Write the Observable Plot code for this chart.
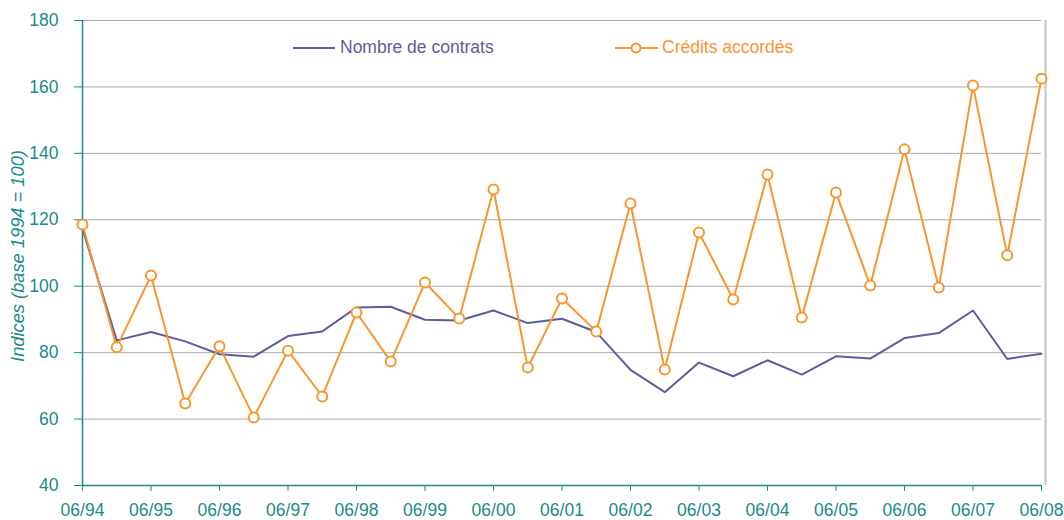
<!DOCTYPE html>
<html>
<head>
<meta charset="utf-8">
<script src="https://cdn.jsdelivr.net/npm/d3@7"></script>
<script src="https://cdn.jsdelivr.net/npm/@observablehq/plot@0.6"></script>
<style>
  html, body { margin: 0; padding: 0; background: #fff; }
  #wrap { position: relative; width: 1064px; height: 520px; font-family: "Liberation Sans", Arial, sans-serif; }
  .leg { position: absolute; top: 37px; display: flex; align-items: center; font-size: 17.5px; }
  .leg span { margin-left: 4px; }
</style>
</head>
<body>
<div id="wrap"></div>
<script>
// Half-year periods, 06/94 .. 06/08
const periods = ["06/94","12/94","06/95","12/95","06/96","12/96","06/97","12/97","06/98","12/98",
  "06/99","12/99","06/00","12/00","06/01","12/01","06/02","12/02","06/03","12/03",
  "06/04","12/04","06/05","12/05","06/06","12/06","06/07","12/07","06/08"];
const contrats = [117.3, 83.7, 86.2, 83.4, 79.5, 78.8, 85.0, 86.4, 93.6, 93.8,
  89.9, 89.7, 92.7, 88.9, 90.2, 86.2, 74.8, 68.1, 77.0, 72.9,
  77.7, 73.4, 78.9, 78.2, 84.4, 85.9, 92.7, 78.1, 79.7];
const credits = [118.6, 81.6, 103.2, 64.7, 81.9, 60.5, 80.6, 66.8, 92.1, 77.3,
  101.1, 90.3, 129.1, 75.5, 96.3, 86.4, 124.9, 74.9, 116.2, 96.0,
  133.6, 90.6, 128.2, 100.2, 141.2, 99.6, 160.4, 109.3, 162.5];
const yTicks = [40, 60, 80, 100, 120, 140, 160, 180];
const seriesNames = ["Nombre de contrats", "Crédits accordés"];

const teal = "#1b8a8a", purple = "#5f5c9c", orange = "#f7962e", grid = "#ababab";

const rowsC = periods.map((p, i) => ({i, p, v: contrats[i]}));
const rowsK = periods.map((p, i) => ({i, p, v: credits[i]}));
const xTicks = periods.map((p, i) => i).filter(i => i % 2 === 0);

const chart = Plot.plot({
  width: 1064, height: 520,
  marginLeft: 82, marginRight: 23, marginTop: 20, marginBottom: 35,
  style: {fontFamily: "'Liberation Sans', Arial, sans-serif", fontSize: "17.5px", background: "#fff"},
  x: {domain: [0, periods.length - 1], type: "linear"},
  y: {domain: [40, 180]},
  marks: [
    Plot.ruleY(yTicks.filter(t => t > 40), {stroke: grid, strokeWidth: 1}),
    Plot.ruleX([periods.length - 1], {stroke: "#c4c4c4", strokeWidth: 2, dx: 4}),
    Plot.axisY({ticks: yTicks, tickSize: 8, tickPadding: 16, stroke: teal, color: teal, label: null, fontSize: 17.5}),
    Plot.axisX({ticks: xTicks, tickFormat: i => periods[i], tickSize: 6, tickPadding: 12, stroke: teal, color: teal, label: null, fontSize: 17.5}),
    Plot.ruleX([0], {stroke: teal, strokeWidth: 1.5}),
    Plot.ruleY([40], {stroke: teal, strokeWidth: 1.5}),
    Plot.text(["Indices (base 1994 = 100)"], {frameAnchor: "left", textAnchor: "middle", rotate: -90, dx: -64, dy: 3, fill: teal, fontStyle: "italic", fontSize: 18.3}),
    Plot.line(rowsC, {x: "i", y: "v", stroke: purple, strokeWidth: 2}),
    Plot.line(rowsK, {x: "i", y: "v", stroke: orange, strokeWidth: 2}),
    Plot.dot(rowsK, {x: "i", y: "v", r: 5, stroke: orange, strokeWidth: 2, fill: "#fff"})
  ]
});
const wrap = document.getElementById("wrap");
wrap.appendChild(chart);

const leg1 = document.createElement("div");
leg1.className = "leg";
leg1.style.left = "293px";
leg1.style.color = purple;
leg1.innerHTML = `<svg width="43" height="20"><line x1="0" x2="42" y1="10" y2="10" stroke="${purple}" stroke-width="2"/></svg><span>${seriesNames[0]}</span>`;
wrap.appendChild(leg1);

const leg2 = document.createElement("div");
leg2.className = "leg";
leg2.style.left = "615px";
leg2.style.color = orange;
leg2.innerHTML = `<svg width="43" height="20"><line x1="0" x2="43" y1="10" y2="10" stroke="${orange}" stroke-width="2"/><circle cx="21" cy="10" r="4.5" fill="#fff" stroke="${orange}" stroke-width="2"/></svg><span>${seriesNames[1]}</span>`;
wrap.appendChild(leg2);
</script>
</body>
</html>
